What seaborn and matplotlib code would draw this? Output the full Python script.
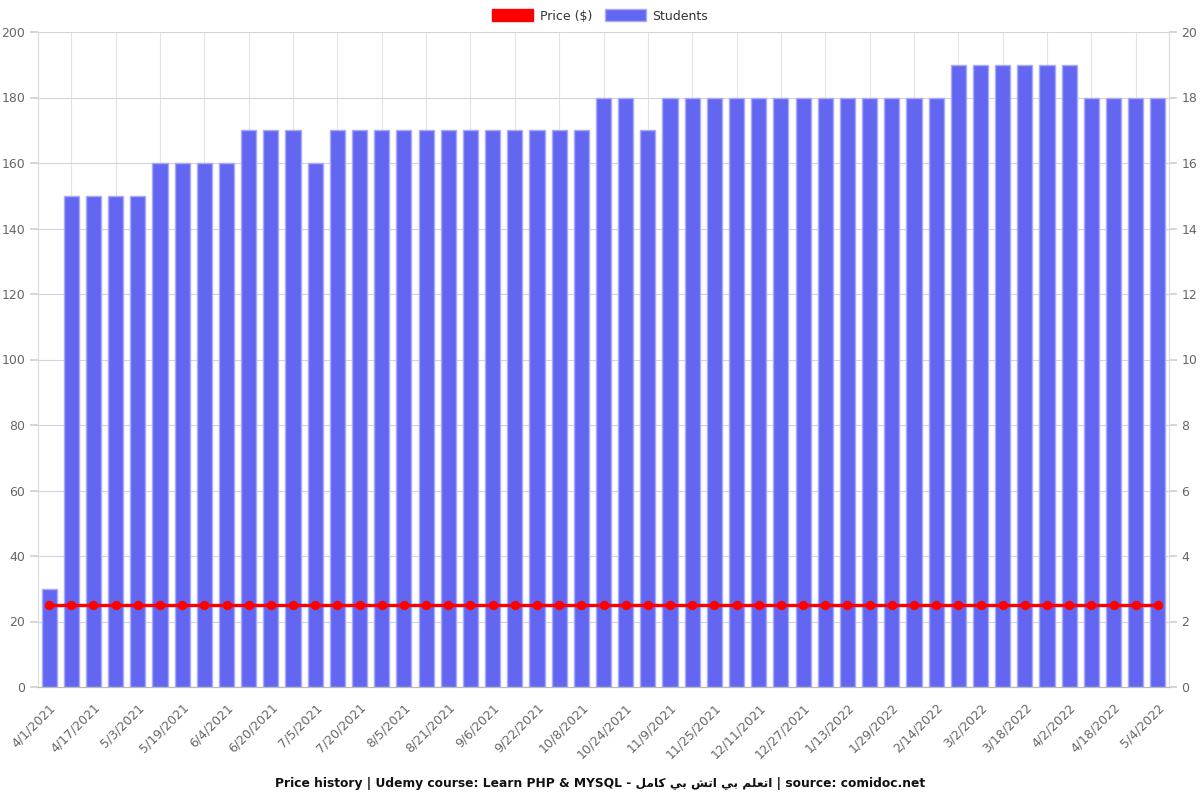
import numpy as np
import matplotlib
matplotlib.use("Agg")
import matplotlib.pyplot as plt
from matplotlib.patches import Patch
import seaborn as sns

# ---- data ----
date_labels = ["4/1/2021", "4/17/2021", "5/3/2021", "5/19/2021", "6/4/2021", "6/20/2021",
               "7/5/2021", "7/20/2021", "8/5/2021", "8/21/2021", "9/6/2021", "9/22/2021",
               "10/8/2021", "10/24/2021", "11/9/2021", "11/25/2021", "12/11/2021",
               "12/27/2021", "1/13/2022", "1/29/2022", "2/14/2022", "3/2/2022",
               "3/18/2022", "4/2/2022", "4/18/2022", "5/4/2022"]
students = [3, 15, 15, 15, 15, 16, 16, 16, 16, 17, 17, 17, 16, 17, 17, 17, 17, 17,
            17, 17, 17, 17, 17, 17, 17, 18, 18, 17, 18, 18, 18, 18, 18, 18, 18, 18,
            18, 18, 18, 18, 18, 19, 19, 19, 19, 19, 19, 18, 18, 18, 18]
price = [24.99] * len(students)

# Arabic part of the course name, written in visual order with presentation forms
# (logical text: "اتعلم بي اتش بي كامل")
arabic_visual = ("\uFEDE\uFEE3\uFE8E\uFEDB \uFEF2\uFE91 \uFEB6\uFE97\uFE8D "
                 "\uFEF2\uFE91 \uFEE2\uFEE0\uFECC\uFE97\uFE8D")
title = ("Price history | Udemy course: Learn PHP & MYSQL - " + arabic_visual +
         " | source: comidoc.net")

# ---- style ----
sns.set_theme(style="white")
plt.rcParams["font.family"] = ["DejaVu Sans"]

BAR = "#6366f1"
TICK_C = "#666666"
GRID_C = "#e3e3e3"

fig = plt.figure(figsize=(12, 8), dpi=100)
ax = fig.add_axes([38 / 1200, 1 - 687 / 800, (1169 - 38) / 1200, (687 - 32) / 800])
idx = np.arange(len(students))

sns.barplot(x=idx, y=students, ax=ax, color=BAR, saturation=1, width=0.68,
            edgecolor="#a9abf7", linewidth=1, zorder=2)
ax.set_xlim(-0.5, len(students) - 0.5)
ax.set_ylim(0, 20)
ax.set_axisbelow(True)

ax2 = ax.twinx()
sns.lineplot(x=idx, y=price, ax=ax2, color="#ff0000", linewidth=2.4, marker="o",
             markersize=6, markeredgecolor="#ff0000", zorder=5)
ax2.set_ylim(0, 200)
ax2.set_xlim(-0.5, len(students) - 0.5)

# students scale on the right, price scale on the left
ax.yaxis.tick_right()
ax.set_yticks(np.arange(0, 21, 2))
ax2.yaxis.tick_left()
ax2.set_yticks(np.arange(0, 201, 20))

# x ticks: labels at even categories, tick marks / grid at odd categories
ax.set_xticks(idx[::2])
ax.set_xticklabels(date_labels, rotation=45, ha="right", rotation_mode="anchor",
                   color=TICK_C, fontsize=9)
ax.set_xticks(idx[1::2], minor=True)
ax.tick_params(axis="x", which="major", length=0, pad=10)
ax.tick_params(axis="x", which="minor", length=6, color="#d0d0d0", width=1)
ax.grid(which="minor", axis="x", color=GRID_C, linewidth=0.8)
ax.grid(which="major", axis="x", visible=False)
ax.grid(which="major", axis="y", color="#d4d4d4", linewidth=0.8)

ax.tick_params(axis="y", which="major", length=6, color="#d0d0d0", labelcolor=TICK_C,
               labelsize=9, pad=3, right=True, left=False, labelright=True,
               labelleft=False)
ax2.tick_params(axis="y", which="major", length=6, color="#d0d0d0", labelcolor=TICK_C,
                labelsize=9, pad=3, left=True, right=False, labelleft=True,
                labelright=False)
ax.set_xlabel("")
ax.set_ylabel("")
ax2.set_ylabel("")

for a in (ax, ax2):
    a.spines["top"].set_visible(False)
    a.spines["left"].set_color("#dddddd")
    a.spines["right"].set_color("#dddddd")
    a.spines["bottom"].set_color("#bbbbbb")
    for s in a.spines.values():
        s.set_linewidth(0.8)

handles = [Patch(facecolor="#ff0000", edgecolor="#ff0000", label="Price ($)"),
           Patch(facecolor=BAR, edgecolor="#a9abf7", label="Students")]
fig.legend(handles=handles, loc="center", bbox_to_anchor=(0.5, 1 - 16 / 800), ncol=2,
           frameon=False, fontsize=9, handlelength=3.3, handleheight=1.1,
           columnspacing=1.0, handletextpad=0.5, labelcolor="#333333")

fig.text(0.5, 1 - 783 / 800, title, ha="center", va="center", fontsize=8.8,
         fontweight="bold", color="#111111")

fig.savefig("out.png", dpi=100)
